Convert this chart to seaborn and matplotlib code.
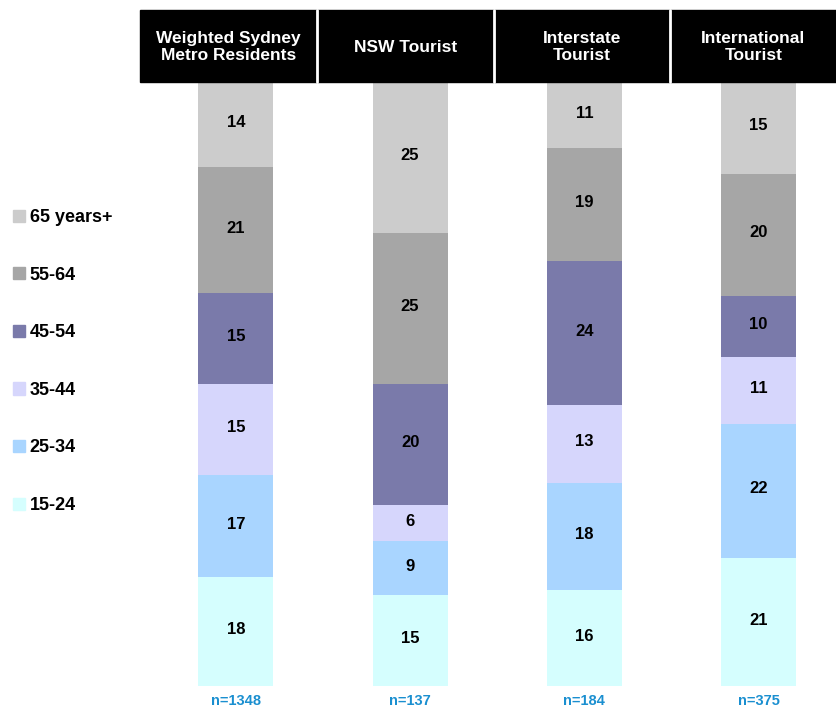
import numpy as np
import pandas as pd
import matplotlib
matplotlib.use("Agg")
import matplotlib.pyplot as plt
import matplotlib.patches as mpatches
import seaborn as sns

# Data (percent)
groups = ["Weighted Sydney\nMetro Residents", "NSW Tourist", "Interstate\nTourist", "International\nTourist"]
group_keys = ["sydney", "nsw", "interstate", "international"]
age_groups = ["65 years+", "55-64", "45-54", "35-44", "25-34", "15-24"]
pct_65 = [14, 25, 11, 15]
pct_55 = [21, 25, 19, 20]
pct_45 = [15, 20, 24, 10]
pct_35 = [15, 6, 13, 11]
pct_25 = [17, 9, 18, 22]
pct_15 = [18, 15, 16, 21]
sample_n = [1348, 137, 184, 375]

colours = {
    "65 years+": "#CCCCCC",
    "55-64": "#A6A6A6",
    "45-54": "#7A7AAA",
    "35-44": "#D6D6FC",
    "25-34": "#A9D5FF",
    "15-24": "#D5FEFE",
}

sns.set_style("white")
plt.rcParams["font.family"] = ["Liberation Sans", "DejaVu Sans"]
plt.rcParams["text.color"] = "black"

df = pd.DataFrame({
    "65 years+": pct_65, "55-64": pct_55, "45-54": pct_45,
    "35-44": pct_35, "25-34": pct_25, "15-24": pct_15,
}, index=group_keys)

# bars fill to 100% (rounded labels)
share = df.div(df.sum(axis=1), axis=0) * 100
cum = share.iloc[:, ::-1].cumsum(axis=1).iloc[:, ::-1]

fig = plt.figure(figsize=(8.37, 7.09), dpi=100)
ax = fig.add_axes([140 / 837, 23 / 709, 697 / 837, 604 / 709])

# draw cumulative bars from tallest to shortest so they stack
for age in age_groups:
    sns.barplot(x=group_keys, y=cum[age].values, order=group_keys, color=colours[age],
                saturation=1, width=0.43, errorbar=None, linewidth=0, ax=ax)

for age in age_groups:
    mid = cum[age] - share[age] / 2
    for i, key in enumerate(group_keys):
        ax.text(i, mid[key] + 0.3, str(df.loc[key, age]), ha="center", va="center",
                fontsize=12, fontweight="bold", color="black")

for i, n in enumerate(sample_n):
    ax.text(i, -2.5, f"n={n}", ha="center", va="center", fontsize=10.5,
            fontweight="bold", color="#1A8FD0", clip_on=False)

ax.set_xlim(-0.55, 3.45)
ax.set_ylim(0, 100)
ax.axis("off")

# header boxes
fig.patches.append(mpatches.Rectangle((140 / 837, 1 - 82 / 709), 697 / 837, 72 / 709,
                                      transform=fig.transFigure, color="black", zorder=0))
edges = [140, 317, 494, 670, 837]
for x in edges[1:-1]:
    fig.add_artist(plt.Line2D([x / 837, x / 837], [1 - 82 / 709, 1 - 10 / 709],
                              color="white", lw=2, transform=fig.transFigure))
for i, label in enumerate(groups):
    cx = (edges[i] + edges[i + 1]) / 2 / 837
    fig.text(cx, 1 - 47 / 709, label, ha="center", va="center", color="white",
             fontsize=12.5, fontweight="bold", linespacing=1.15)

# legend on the left
handles = [mpatches.Patch(color=colours[a], label=a) for a in age_groups]
fig.legend(handles=handles, loc="upper left", bbox_to_anchor=(13 / 837, 1 - 209 / 709),
           frameon=False, handlelength=0.67, handleheight=0.67, handletextpad=0.25,
           labelspacing=2.25, borderpad=0, borderaxespad=0,
           prop={"weight": "bold", "size": 13})

fig.savefig("out.png", dpi=100)
